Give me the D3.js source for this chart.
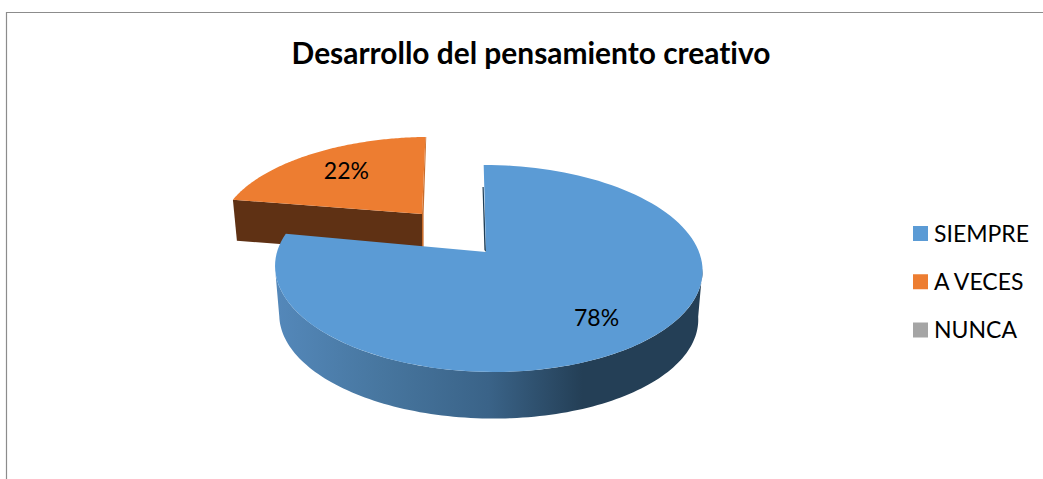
<!DOCTYPE html>
<html>
<head>
<meta charset="utf-8">
<script src="https://cdn.jsdelivr.net/npm/d3@7"></script>
<style>
html, body { margin: 0; padding: 0; background: #fff; overflow: hidden; }
text { font-family: Lato, "Open Sans", sans-serif; fill: #000; font-variant-ligatures: none; }
</style>
</head>
<body>
<script>
var title = "Desarrollo del pensamiento creativo";
var categories = ["SIEMPRE", "A VECES", "NUNCA"];
var values = [78, 22, 0];
var labels = ["78%", "22%", ""];
var colors = ["#5b9bd5", "#ed7d31", "#a5a5a5"];

var width = 1043, height = 479;

var svg = d3.select("body").append("svg")
    .attr("width", width)
    .attr("height", height);

// chart frame, only top and left are in the picture
svg.append("path")
    .attr("d", "M6.5," + height + "V12.5H" + width)
    .attr("fill", "none")
    .attr("stroke", "#8c8c8c")
    .attr("stroke-width", 1.2);

svg.append("text").text(title)
    .attr("x", 531)
    .attr("y", 64)
    .attr("text-anchor", "middle")
    .attr("font-weight", "bold")
    .attr("font-size", 29.9);

// side wall gradient of the big slice
var grad = svg.append("defs").append("linearGradient")
    .attr("id", "wallBlue")
    .attr("gradientUnits", "userSpaceOnUse")
    .attr("x1", 275).attr("x2", 702).attr("y1", 0).attr("y2", 0);
[[0, "#5488ba"], [0.25, "#47769f"], [0.5, "#3a6388"], [0.72, "#243f56"], [1, "#243f56"]].forEach(function(s) {
  grad.append("stop").attr("offset", s[0]).attr("stop-color", s[1]);
});

var pie = d3.pie().sort(null).value(function(d) { return d; });
var arcs = pie(values);

// how each slice sits in the 3d view (the small one is pulled out to the back)
var views = [
  {cx: 486, cy: 252, rx: 211, ry: 100.9, lean: -5, roll: 0, rimShift: 2, depth: 49, shrink: 0.98, labelR: 0.74, labelDx: -3.5, labelDy: 3, wall: "url(#wallBlue)", edge: "#1f3f58"},
  {cx: 422, cy: 214, rx: 199, ry: 89.3, lean: 4, roll: -2, rimShift: 0, depth: 41, shrink: 1, labelR: 0.66, labelDx: 0, labelDy: -1.5, wall: "#5f3114", edge: "#c96d2c"}
];

var tilt = 0.159; // perspective, near side of the disc looks bigger

function project(view, angle, r) {
  var u = Math.sin(angle) * r, v = Math.cos(angle) * r;
  var w = 1 + tilt * v;
  return [view.cx + view.rimShift * r + (view.rx * u + view.lean * v) / w,
          view.cy + view.roll * u - view.ry * v / w];
}

function rim(view, a0, a1) {
  return d3.range(0, 121).map(function(i) {
    return project(view, a0 + (a1 - a0) * i / 120, 1);
  });
}

function lower(view, p) {
  return [view.cx + (p[0] - view.cx) * view.shrink, view.cy + (p[1] - view.cy) * view.shrink + view.depth];
}

var line = d3.line();

// outer wall, front part of the rim between its widest points
function drawOuterWall(g, a, view) {
  var from = Math.max(a.startAngle, Math.PI * 0.55);
  var to = Math.min(a.endAngle, Math.PI * 1.45);
  if (from >= to) return;
  var top = rim(view, from, to);
  var bottom = top.map(function(p) { return lower(view, p); }).reverse();
  g.append("path").attr("d", line(top.concat(bottom)) + "Z").attr("fill", view.wall);
}

function drawFace(g, a, view, color) {
  var face = [[view.cx, view.cy]].concat(rim(view, a.startAngle, a.endAngle));
  g.append("path").attr("d", line(face) + "Z").attr("fill", color);
}

// back slice first
var small = svg.append("g");
var sa = arcs[1], sv = views[1];
var c1 = [sv.cx, sv.cy];
var s1 = project(sv, sa.startAngle, 1), e1 = project(sv, sa.endAngle, 1);
small.append("path") // cut wall facing us
    .attr("d", line([s1, c1, [c1[0], c1[1] + sv.depth], [s1[0] + 4, s1[1] + sv.depth]]) + "Z")
    .attr("fill", sv.wall);
small.append("path") // thin lit wall on the right
    .attr("d", line([e1, c1, [c1[0], c1[1] + sv.depth], [c1[0] + 1.6, c1[1] + sv.depth], [c1[0] + 1.6, c1[1]], [e1[0] + 0.8, e1[1]]]) + "Z")
    .attr("fill", sv.edge);
drawFace(small, sa, sv, colors[1]);

var big = svg.append("g");
var ba = arcs[0], bv = views[0];
drawOuterWall(big, ba, bv);
var s0 = project(bv, ba.startAngle, 1), c0 = [bv.cx, bv.cy];
big.append("path") // dark sliver of the cut wall
    .attr("d", line([[s0[0], s0[1] + 22], c0, [c0[0] - 1.6, c0[1] - 2], [s0[0] - 1.2, s0[1] + 22]]) + "Z")
    .attr("fill", bv.edge);
drawFace(big, ba, bv, colors[0]);

// percent labels sit on the top faces
[1, 0].forEach(function(i) {
  var a = arcs[i], view = views[i];
  var p = project(view, (a.startAngle + a.endAngle) / 2, view.labelR);
  svg.append("text").text(labels[i])
    .attr("x", p[0] + view.labelDx)
    .attr("y", p[1] + 8 + view.labelDy)
    .attr("text-anchor", "middle")
    .attr("font-size", 23);
});

// legend
var legendY = d3.scalePoint().domain(categories).range([233.5, 330]);
var legend = svg.selectAll(".legend").data(categories).enter().append("g")
    .attr("class", "legend")
    .attr("transform", function(d) { return "translate(913," + legendY(d) + ")"; });
legend.append("rect")
    .attr("y", -7.5)
    .attr("width", 15)
    .attr("height", 15)
    .attr("fill", function(d, i) { return colors[i]; });
legend.append("text").text(function(d) { return d; })
    .attr("x", 21)
    .attr("y", 8)
    .attr("font-size", 23);
</script>
</body>
</html>
